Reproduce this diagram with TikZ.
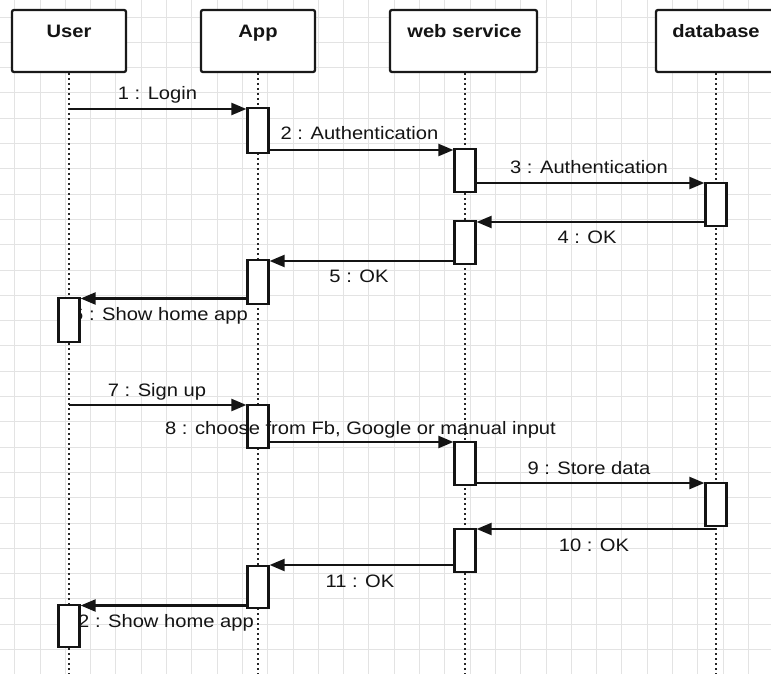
\documentclass[tikz,border=0pt]{standalone}
\usepackage{fontspec}
\setmainfont{Liberation Sans}
\usepackage{graphicx}
\usetikzlibrary{arrows.meta,calc}
\newcommand\hsq[1]{\scalebox{1.12}[1]{#1}}
\begin{document}
\begin{tikzpicture}[x=1pt,y=-1pt,
  gridline/.style={draw=black!11, line width=0.9pt},
  head/.style={draw=black!90, fill=white, line width=2.3pt, rounded corners=2pt, minimum height=62, inner sep=0},
  headtxt/.style={font=\fontsize{18}{20}\selectfont\bfseries, inner sep=0, anchor=base, text=black!92},
  life/.style={draw=black!85, line width=2.3pt, dash pattern=on 2.4pt off 2.6pt},
  act/.style={draw=black!92, fill=white, line width=2.2pt, minimum width=21, inner sep=0},
  msg/.style={draw=black!92, line width=2.2pt, -{Triangle[length=15pt,width=12pt]}},
  lbl/.style={font=\fontsize{18}{20}\selectfont, inner sep=0, anchor=base, text=black!92}]
\clip (0,0) rectangle (771,674);
\fill[white] (0,0) rectangle (771,674);
% grid
\foreach \i in {0,...,30} \draw[gridline] (14.7+25.3*\i,0) -- ++(0,674);
\foreach \j in {0,...,26} \draw[gridline] (0,17+25.3*\j) -- ++(771,0);
% headers
\node[head, minimum width=114] (user) at (69,41) {};
\node[head, minimum width=114] (app) at (258,41) {};
\node[head, minimum width=147] (ws) at (463.5,41) {};
\node[head, minimum width=120] (db) at (716,41) {};
\node[headtxt] (usert) at (69,37.7) {\hsq{User}};
\node[headtxt] (appt) at (258,37.7) {\hsq{App}};
\node[headtxt] (wst) at (464.5,37.7) {\hsq{web service}};
\node[headtxt] (dbt) at (716,37.7) {\hsq{database}};
% lifelines
\coordinate (uend) at (69,676);
\coordinate (aend) at (258,676);
\coordinate (wend) at (465,676);
\coordinate (dend) at (716,676);
\draw[life] (69,73) -- (uend);
\draw[life] (258,73) -- (aend);
\draw[life] (465,73) -- (wend);
\draw[life] (716,73) -- (dend);
% labels hidden partly by user boxes
\node[lbl, anchor=base east] (l6) at (248,320) {\hsq{6 : Show home app}};
\node[lbl, anchor=base east] (l12) at (254,627) {\hsq{12 : Show home app}};
% activation boxes
\node[act, minimum height=45] (a1) at (258,130.5) {};
\node[act, minimum height=43] (w1) at (465,170.5) {};
\node[act, minimum height=43] (d1) at (716,204.5) {};
\node[act, minimum height=43] (w2) at (465,242.5) {};
\node[act, minimum height=44] (a2) at (258,282) {};
\node[act, minimum height=44] (u1) at (69,320) {};
\node[act, minimum height=43] (a3) at (258,426.5) {};
\node[act, minimum height=43] (w3) at (465,463.5) {};
\node[act, minimum height=43] (d2) at (716,504.5) {};
\node[act, minimum height=43] (w4) at (465,550.5) {};
\node[act, minimum height=42] (a4) at (258,587) {};
\node[act, minimum height=42] (u2) at (69,626) {};
% messages
\coordinate (m1) at (69,109);
\draw[msg] (m1) -- (m1 -| a1.west);
\coordinate (m2) at (268.5,150);
\draw[msg] (m2) -- (m2 -| w1.west);
\coordinate (m3) at (475.5,183);
\draw[msg] (m3) -- (m3 -| d1.west);
\coordinate (m4) at (705.5,222);
\draw[msg] (m4) -- (m4 -| w2.east);
\coordinate (m5) at (454.5,261);
\draw[msg] (m5) -- (m5 -| a2.east);
\coordinate (m6) at (247.5,298.5);
\draw[msg] (m6) -- (m6 -| u1.east);
\coordinate (m7) at (69,405);
\draw[msg] (m7) -- (m7 -| a3.west);
\coordinate (m8) at (268.5,442);
\draw[msg] (m8) -- (m8 -| w3.west);
\coordinate (m9) at (475.5,483);
\draw[msg] (m9) -- (m9 -| d2.west);
\coordinate (m10) at (716,529);
\draw[msg] (m10) -- (m10 -| w4.east);
\coordinate (m11) at (454.5,565);
\draw[msg] (m11) -- (m11 -| a4.east);
\coordinate (m12) at (247.5,605.5);
\draw[msg] (m12) -- (m12 -| u2.east);
% labels
\node[lbl] (l1) at (157.5,100) {\hsq{1 : Login}};
\node[lbl] (l2) at (359.5,140) {\hsq{2 : Authentication}};
\node[lbl] (l3) at (589,174) {\hsq{3 : Authentication}};
\node[lbl] (l4) at (587,243) {\hsq{4 : OK}};
\node[lbl] (l5) at (359,282) {\hsq{5 : OK}};
\node[lbl] (l7) at (157,396) {\hsq{7 : Sign up}};
\node[lbl] (l8) at (360.5,434) {\hsq{8 : choose from Fb, Google or manual input}};
\node[lbl] (l9) at (589,474) {\hsq{9 : Store data}};
\node[lbl] (l10) at (594,551) {\hsq{10 : OK}};
\node[lbl] (l11) at (360,587) {\hsq{11 : OK}};
\end{tikzpicture}
\end{document}
